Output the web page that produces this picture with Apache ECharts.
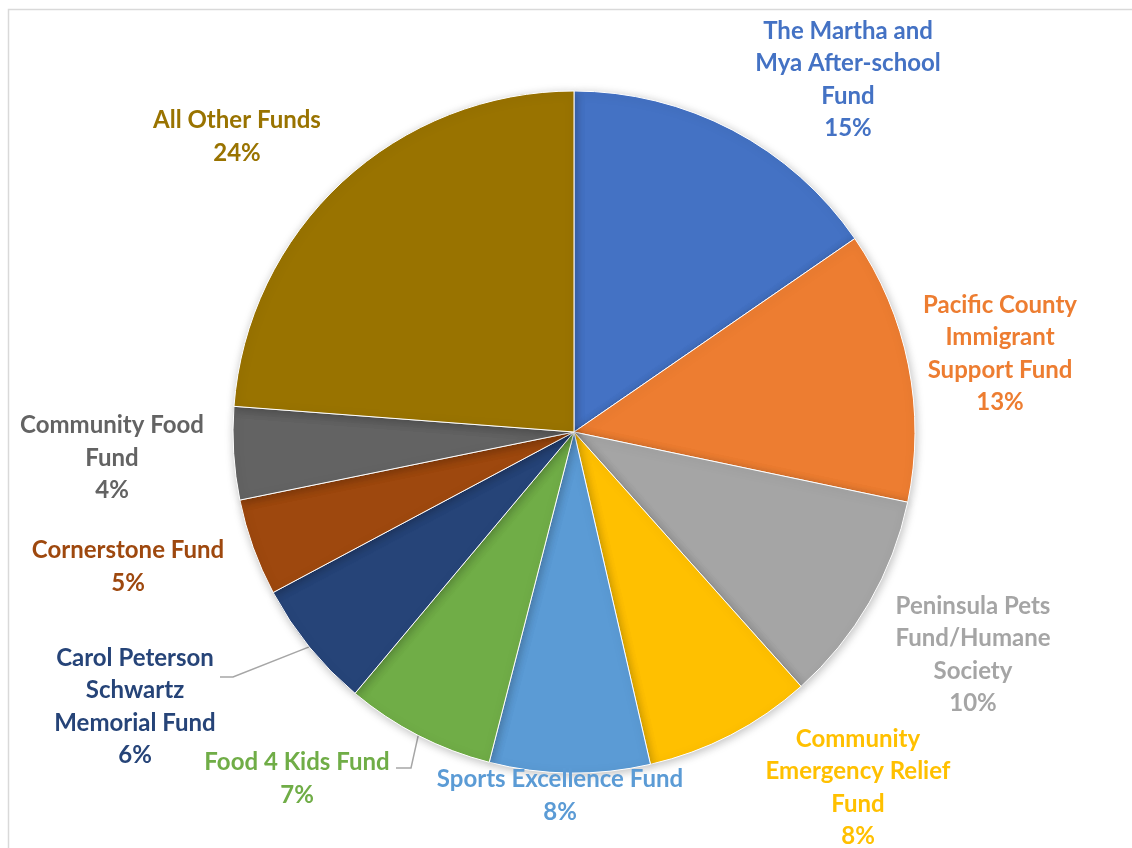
<!DOCTYPE html>
<html>
<head>
<meta charset="utf-8">
<script src="https://cdn.jsdelivr.net/npm/echarts@6/dist/echarts.min.js"></script>
<style>html,body{margin:0;padding:0;background:#fff;}#c{width:1132px;height:848px;}</style>
</head>
<body>
<div id="c"></div>
<script>
const categories = [
  'The Martha and\nMya After-school\nFund',
  'Pacific County\nImmigrant\nSupport Fund',
  'Peninsula Pets\nFund/Humane\nSociety',
  'Community\nEmergency Relief\nFund',
  'Sports Excellence Fund',
  'Food 4 Kids Fund',
  'Carol Peterson\nSchwartz\nMemorial Fund',
  'Cornerstone Fund',
  'Community Food\nFund',
  'All Other Funds'
];
const values = [15.4, 12.9, 10.1, 8.0, 7.6, 7.1, 6.1, 4.6, 4.4, 23.8];
const colors = ['#4472C4', '#ED7D31', '#A5A5A5', '#FFC000', '#5B9BD5', '#70AD47', '#264478', '#9E480E', '#636363', '#997300'];

// label layout config (pixels)
const labelPos = [
  [848, 80], [1000, 354], [973, 655], [858, 788], [560, 796],
  [297, 779], [135, 707], [128, 567], [112, 458], [237, 137]
];
const leaderBends = {5: [[411, 768], [396, 768]], 6: [[233, 677], [220, 677]]};

const chart = echarts.init(document.getElementById('c'));
chart.setOption({
  animation: false,
  graphic: [{
    type: 'rect', shape: {x: 8.5, y: 9.5, width: 1200, height: 900},
    style: {fill: 'none', stroke: '#d9d9d9', lineWidth: 1.5}, silent: true, z: -10
  }],
  series: [{
    type: 'pie',
    center: [574, 432],
    radius: 341,
    startAngle: 90,
    clockwise: true,
    avoidLabelOverlap: false,
    itemStyle: {borderColor: '#fff', borderWidth: 1, shadowBlur: 10, shadowColor: 'rgba(0,0,0,0.25)', shadowOffsetX: 1, shadowOffsetY: 2},
    label: {
      show: true,
      position: 'outside',
      fontFamily: 'Lato',
      fontWeight: 'bold',
      fontSize: 24,
      lineHeight: 32.5,
      align: 'center',
      formatter: p => p.name + '\n' + Math.round(p.percent) + '%'
    },
    labelLine: {show: false, lineStyle: {color: '#a6a6a6', width: 1.5}},
    labelLayout: function (params) {
      const i = params.dataIndex;
      const p = labelPos[i];
      const out = {x: p[0], y: p[1], align: 'center', verticalAlign: 'middle'};
      if (leaderBends[i] && params.labelLinePoints) {
        out.labelLinePoints = [params.labelLinePoints[0], leaderBends[i][0], leaderBends[i][1]];
      }
      return out;
    },
    emphasis: {disabled: true},
    data: categories.map((n, i) => ({
      name: n,
      value: values[i],
      itemStyle: {color: colors[i]},
      label: {color: colors[i]},
      labelLine: {show: !!leaderBends[i]}
    }))
  }]
});
</script>
</body>
</html>
